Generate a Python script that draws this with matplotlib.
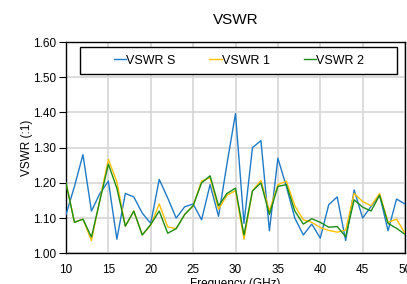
import matplotlib
matplotlib.use("Agg")
import matplotlib.pyplot as plt
from matplotlib.patches import Rectangle
import numpy as np

plt.rcParams['font.family'] = ['Liberation Sans', 'DejaVu Sans']

freq = list(range(10, 51))
vswr_s = [1.11, 1.19, 1.28, 1.12, 1.17, 1.205, 1.04, 1.17, 1.16, 1.114, 1.085,
          1.21, 1.157, 1.10, 1.132, 1.14, 1.095, 1.195, 1.105, 1.255, 1.397,
          1.085, 1.30, 1.32, 1.064, 1.27, 1.19, 1.10, 1.052, 1.083, 1.043,
          1.138, 1.16, 1.036, 1.18, 1.10, 1.133, 1.166, 1.064, 1.154, 1.14]
vswr_1 = [1.20, 1.088, 1.097, 1.036, 1.152, 1.267, 1.203, 1.077, 1.12, 1.052, 1.08,
          1.14, 1.075, 1.07, 1.11, 1.135, 1.205, 1.215, 1.125, 1.165, 1.178,
          1.04, 1.177, 1.207, 1.12, 1.195, 1.205, 1.135, 1.095, 1.088, 1.073,
          1.065, 1.06, 1.066, 1.17, 1.147, 1.135, 1.17, 1.088, 1.097, 1.057]
vswr_2 = [1.20, 1.088, 1.097, 1.046, 1.15, 1.253, 1.185, 1.077, 1.12, 1.052, 1.082,
          1.12, 1.057, 1.07, 1.11, 1.135, 1.20, 1.22, 1.135, 1.17, 1.185,
          1.052, 1.177, 1.20, 1.11, 1.19, 1.195, 1.12, 1.083, 1.098, 1.088,
          1.074, 1.076, 1.047, 1.152, 1.131, 1.12, 1.165, 1.085, 1.071, 1.054]
series_names = ["VSWR S", "VSWR 1", "VSWR 2"]
x_ticks = [10, 15, 20, 25, 30, 35, 40, 45, 50]
y_ticks = [1.00, 1.10, 1.20, 1.30, 1.40, 1.50, 1.60]

fig = plt.figure(figsize=(4.07, 2.84), dpi=100)
ax = fig.add_axes([66/407, (284-253.3)/284, 339/407, 211.3/284])

colors = ["#1f7bc8", "#ffc000", "#1a8c1a"]
for vals, name, c in zip([vswr_s, vswr_1, vswr_2], series_names, colors):
    ax.plot(freq, vals, color=c, lw=1.0, label=name, zorder=3)

ax.set_xlim(10, 50)
ax.set_ylim(1.0, 1.6)
ax.set_xticks(x_ticks)
ax.set_yticks(y_ticks)
ax.set_yticklabels([f"{v:.2f}" for v in y_ticks])
ax.grid(True, color="#d9d9d9", lw=1.3, zorder=0)
ax.set_axisbelow(True)
for s in ax.spines.values():
    s.set_color("black")
    s.set_linewidth(1.0)
ax.tick_params(axis='x', length=0, pad=8, labelsize=8.5)
ax.tick_params(axis='y', length=5, width=0.8, pad=2, labelsize=8.5)

ax.set_title("VSWR", fontsize=11, pad=13)
ax.set_xlabel("Frequency (GHz)", fontsize=8.5, labelpad=1)
ax.set_ylabel("VSWR (:1)", fontsize=8.5, labelpad=0)

rect = Rectangle((0.0413, 0.8486), 0.976-0.0413, 0.976-0.8486, transform=ax.transAxes,
                 facecolor="white", edgecolor="black", lw=1.0, zorder=4)
ax.add_patch(rect)
leg = ax.legend(loc="center", bbox_to_anchor=(0.51, 0.912), ncol=3, frameon=False,
                fontsize=9, handlelength=1.0, handletextpad=0.0, columnspacing=2.7)
leg.set_zorder(5)

fig.savefig("out.png", dpi=100)
